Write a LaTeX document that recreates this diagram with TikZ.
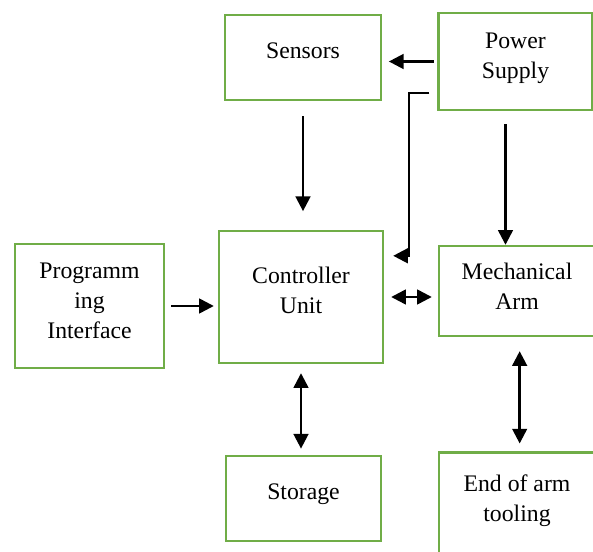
\documentclass[tikz,border=0pt]{standalone}
\usepackage{fontspec}
\setmainfont{Liberation Serif}
\usepackage{xcolor}
\definecolor{boxgreen}{HTML}{70AD47}
\usetikzlibrary{arrows.meta,positioning,calc}
\tikzset{
  bx/.style={draw=boxgreen, line width=1.8pt, inner sep=0pt},
  txt/.style={align=center, font=\fontsize{17.8}{22.5}\selectfont},
  ar/.style={-{Triangle[length=11pt,width=11pt]}, draw=black, line width=1.8pt},
  dar/.style={{Triangle[length=11pt,width=11pt]}-{Triangle[length=11pt,width=11pt]},
              draw=black, line width=1.8pt},
}
\begin{document}
\begin{tikzpicture}[x=0.75pt,y=-0.75pt]
  \useasboundingbox (0,0) rectangle (593,552);
  \node[bx, minimum width=117pt, minimum height=64pt,
        label={[txt, yshift=5.25pt]center:Sensors}] (sens) at (303,57.5) {};
  \node[bx, minimum width=115.5pt, minimum height=73pt,
        label={[txt, yshift=2.25pt]center:{Power\\Supply}}] (pow) at (515.5,61.5) {};
  \node[bx, minimum width=123pt, minimum height=99pt,
        label={[txt, yshift=5.25pt]center:{Controller\\Unit}}] (ctrl) at (301,297) {};
  \node[bx, minimum width=112pt, minimum height=93pt,
        label={[txt, yshift=4.1pt]center:{Programm\\ing\\Interface}}] (prog) at (89.5,306) {};
  \node[bx, minimum width=117pt, minimum height=67.5pt,
        label={[txt, yshift=3.75pt]center:{Mechanical\\Arm}}] (mech) at (517,291) {};
  \node[bx, minimum width=116pt, minimum height=64pt,
        label={[txt, yshift=3pt]center:Storage}] (stor) at (303.5,498.5) {};
  \node[bx, minimum width=117pt, minimum height=80pt,
        label={[txt, yshift=4.1pt]center:{End of arm\\tooling}}] (eoat) at (517,506) {};
  % power lines
  \draw[ar, shorten <=2.5pt, shorten >=5pt] (pow.west) -- (pow.west -| sens.east);
  \draw[ar, shorten <=9.75pt] ([xshift=-7.5pt]pow.south) -- ([xshift=-7.5pt]pow.south |- mech.north);
  \draw[ar] ($(pow.west)+(-8,31.5)$) -| ($(ctrl.north east)+(25,26)$) -- ($(ctrl.north east)+(9,26)$);
  % signals into the controller
  \draw[ar, shorten <=11.25pt, shorten >=14pt] (sens.south) -- (sens.south |- ctrl.north);
  \draw[ar, shorten <=4.5pt, shorten >=3pt] (prog.east) -- (prog.east -| ctrl.west);
  % two way links
  \draw[dar, shorten <=5.25pt, shorten >=4.5pt] (ctrl.east) -- (ctrl.east -| mech.west);
  \draw[dar, shorten <=6.75pt, shorten >=4.5pt] (ctrl.south) -- (ctrl.south |- stor.north);
  \draw[dar, shorten <=10.5pt, shorten >=6pt] ([xshift=2pt]mech.south) -- ([xshift=2pt]mech.south |- eoat.north);
\end{tikzpicture}
\end{document}
